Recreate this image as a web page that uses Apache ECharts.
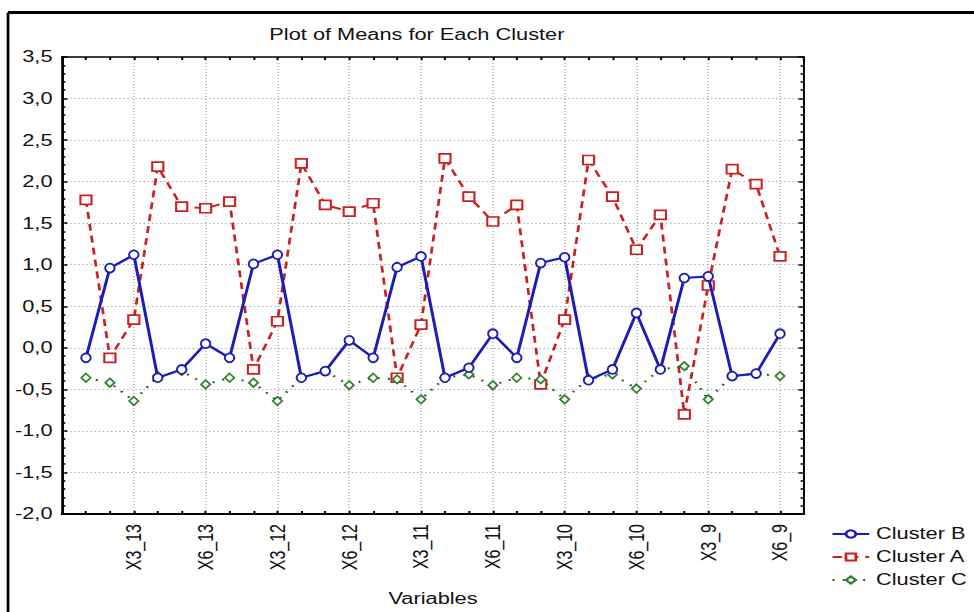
<!DOCTYPE html>
<html>
<head>
<meta charset="utf-8">
<script src="https://cdn.jsdelivr.net/npm/echarts@6/dist/echarts.min.js"></script>
<style>
  html, body { margin: 0; padding: 0; background: #fff; overflow: hidden; }
  #wrap { width: 974px; height: 612px; overflow: hidden; }
  #chart { width: 716px; height: 612px; transform: scale(1.36034, 1); transform-origin: 0 0; }
</style>
</head>
<body>
<div id="wrap"><div id="chart"></div></div>
<script>
// Variables (categories): X1..X6 for groups 13, 12, 11, 10, 9
const groups = ['13', '12', '11', '10', '9'];
const variables = [];
groups.forEach(g => { for (let k = 1; k <= 6; k++) variables.push('X' + k + '_' + g); });

const clusterB = [-0.12, 0.96, 1.12, -0.36, -0.26, 0.05, -0.12, 1.01, 1.12, -0.36,
                  -0.28, 0.09, -0.12, 0.97, 1.10, -0.36, -0.24, 0.17, -0.12, 1.02,
                  1.09, -0.39, -0.26, 0.42, -0.26, 0.84, 0.86, -0.34, -0.31, 0.17];
const clusterA = [1.78, -0.12, 0.34, 2.18, 1.70, 1.68, 1.76, -0.26, 0.32, 2.22,
                  1.72, 1.64, 1.74, -0.36, 0.28, 2.28, 1.82, 1.52, 1.72, -0.44,
                  0.34, 2.26, 1.82, 1.18, 1.60, -0.80, 0.75, 2.15, 1.97, 1.10];
const clusterC = [-0.36, -0.42, -0.64, -0.34, -0.28, -0.44, -0.36, -0.42, -0.64, -0.36,
                  -0.28, -0.45, -0.36, -0.38, -0.62, -0.36, -0.32, -0.45, -0.36, -0.38,
                  -0.62, -0.37, -0.32, -0.49, -0.26, -0.22, -0.62, -0.34, -0.31, -0.34];
const yTicks = { min: -2.0, max: 3.5, step: 0.5 };

// padded category axis so that there is one empty slot on each side
const cats = [' '].concat(variables, ['  ']);
const pad = arr => [null].concat(arr);
const isLabeled = idx => idx >= 3 && idx <= variables.length && idx % 3 === 0;

const FONT = "'Liberation Sans', Arial, sans-serif";
const chart = echarts.init(document.getElementById('chart'), null, { renderer: 'svg' });

const gridLine = { show: true, lineStyle: { color: '#a8a8a8', width: 1, type: [1, 2] } };

chart.setOption({
  animation: false,
  backgroundColor: '#fff',
  title: {
    text: 'Plot of Means for Each Cluster',
    left: 193, top: 22,
    textStyle: { fontFamily: FONT, fontSize: 16, fontWeight: 'normal', color: '#111' }
  },
  legend: {
    orient: 'vertical', left: 606, top: 521,
    itemWidth: 27, itemHeight: 9, itemGap: 7,
    data: ['Cluster B', 'Cluster A', 'Cluster C'],
    textStyle: { fontFamily: FONT, fontSize: 16, color: '#111' }
  },
  graphic: [
    { type: 'line', shape: { x1: 5.9, y1: 12.5, x2: 716, y2: 12.5 }, style: { stroke: '#000', lineWidth: 3 } },
    { type: 'line', shape: { x1: 5.9, y1: 12.5, x2: 5.9, y2: 612 }, style: { stroke: '#000', lineWidth: 2 } }
  ],
  grid: { left: 45.6, right: 125, top: 57, bottom: 94, containLabel: false },
  xAxis: [
    {
      type: 'category', data: cats, boundaryGap: false, position: 'bottom',
      name: 'Variables', nameLocation: 'middle', nameGap: 77,
      nameTextStyle: { fontFamily: FONT, fontSize: 16, color: '#111' },
      axisLine: { show: true, onZero: false, lineStyle: { color: '#000', width: 2 } },
      axisTick: { show: true, inside: true, length: 3, interval: 0, lineStyle: { color: '#000', width: 1.5 } },
      axisLabel: {
        interval: (idx) => isLabeled(idx), rotate: 90, margin: 10,
        fontFamily: FONT, fontSize: 16, color: '#111'
      },
      splitLine: Object.assign({}, gridLine, { interval: (idx) => isLabeled(idx) })
    },
    {
      type: 'category', data: cats, boundaryGap: false, position: 'top',
      axisLine: { show: true, onZero: false, lineStyle: { color: '#000', width: 1.5 } },
      axisTick: { show: true, inside: true, length: 3, interval: 0, lineStyle: { color: '#000', width: 1.5 } },
      axisLabel: { show: false }, splitLine: { show: false }
    }
  ],
  yAxis: [
    {
      type: 'value', min: yTicks.min, max: yTicks.max, interval: yTicks.step, position: 'left',
      axisLine: { show: true, onZero: false, lineStyle: { color: '#000', width: 2 } },
      axisTick: { show: true, inside: true, length: 4, lineStyle: { color: '#000', width: 1.5 } },
      minorTick: { show: true, splitNumber: 5, length: 2.5, lineStyle: { color: '#000', width: 1.5 } },
      axisLabel: {
        margin: 7, fontFamily: FONT, fontSize: 16, color: '#111',
        formatter: v => v.toFixed(1).replace('.', ',')
      },
      splitLine: gridLine
    },
    {
      type: 'value', min: yTicks.min, max: yTicks.max, interval: yTicks.step, position: 'right',
      axisLine: { show: true, onZero: false, lineStyle: { color: '#000', width: 1.5 } },
      axisTick: { show: true, inside: true, length: 4, lineStyle: { color: '#000', width: 1.5 } },
      minorTick: { show: true, splitNumber: 5, length: 2.5, lineStyle: { color: '#000', width: 1.5 } },
      axisLabel: { show: false }, splitLine: { show: false }
    }
  ],
  series: [
    {
      name: 'Cluster A', type: 'line', data: pad(clusterA), z: 3,
      symbol: 'rect', symbolSize: [8.2, 9], showAllSymbol: true,
      lineStyle: { color: '#cc1f1f', width: 2, type: [7, 5] },
      itemStyle: { color: '#fff', borderColor: '#cc1f1f', borderWidth: 1.6 }
    },
    {
      name: 'Cluster C', type: 'line', data: pad(clusterC), z: 4,
      symbol: 'diamond', symbolSize: [6.8, 8.5], showAllSymbol: true,
      lineStyle: { color: '#1f5f1f', width: 2, type: [1.5, 6] },
      itemStyle: { color: '#fff', borderColor: '#2f7f2f', borderWidth: 1.5 }
    },
    {
      name: 'Cluster B', type: 'line', data: pad(clusterB), z: 5,
      symbol: 'circle', symbolSize: [7, 8.8], showAllSymbol: true,
      lineStyle: { color: '#1d1db5', width: 2.2, type: 'solid' },
      itemStyle: { color: '#fff', borderColor: '#1d1db5', borderWidth: 1.6 }
    }
  ]
});
</script>
</body>
</html>
